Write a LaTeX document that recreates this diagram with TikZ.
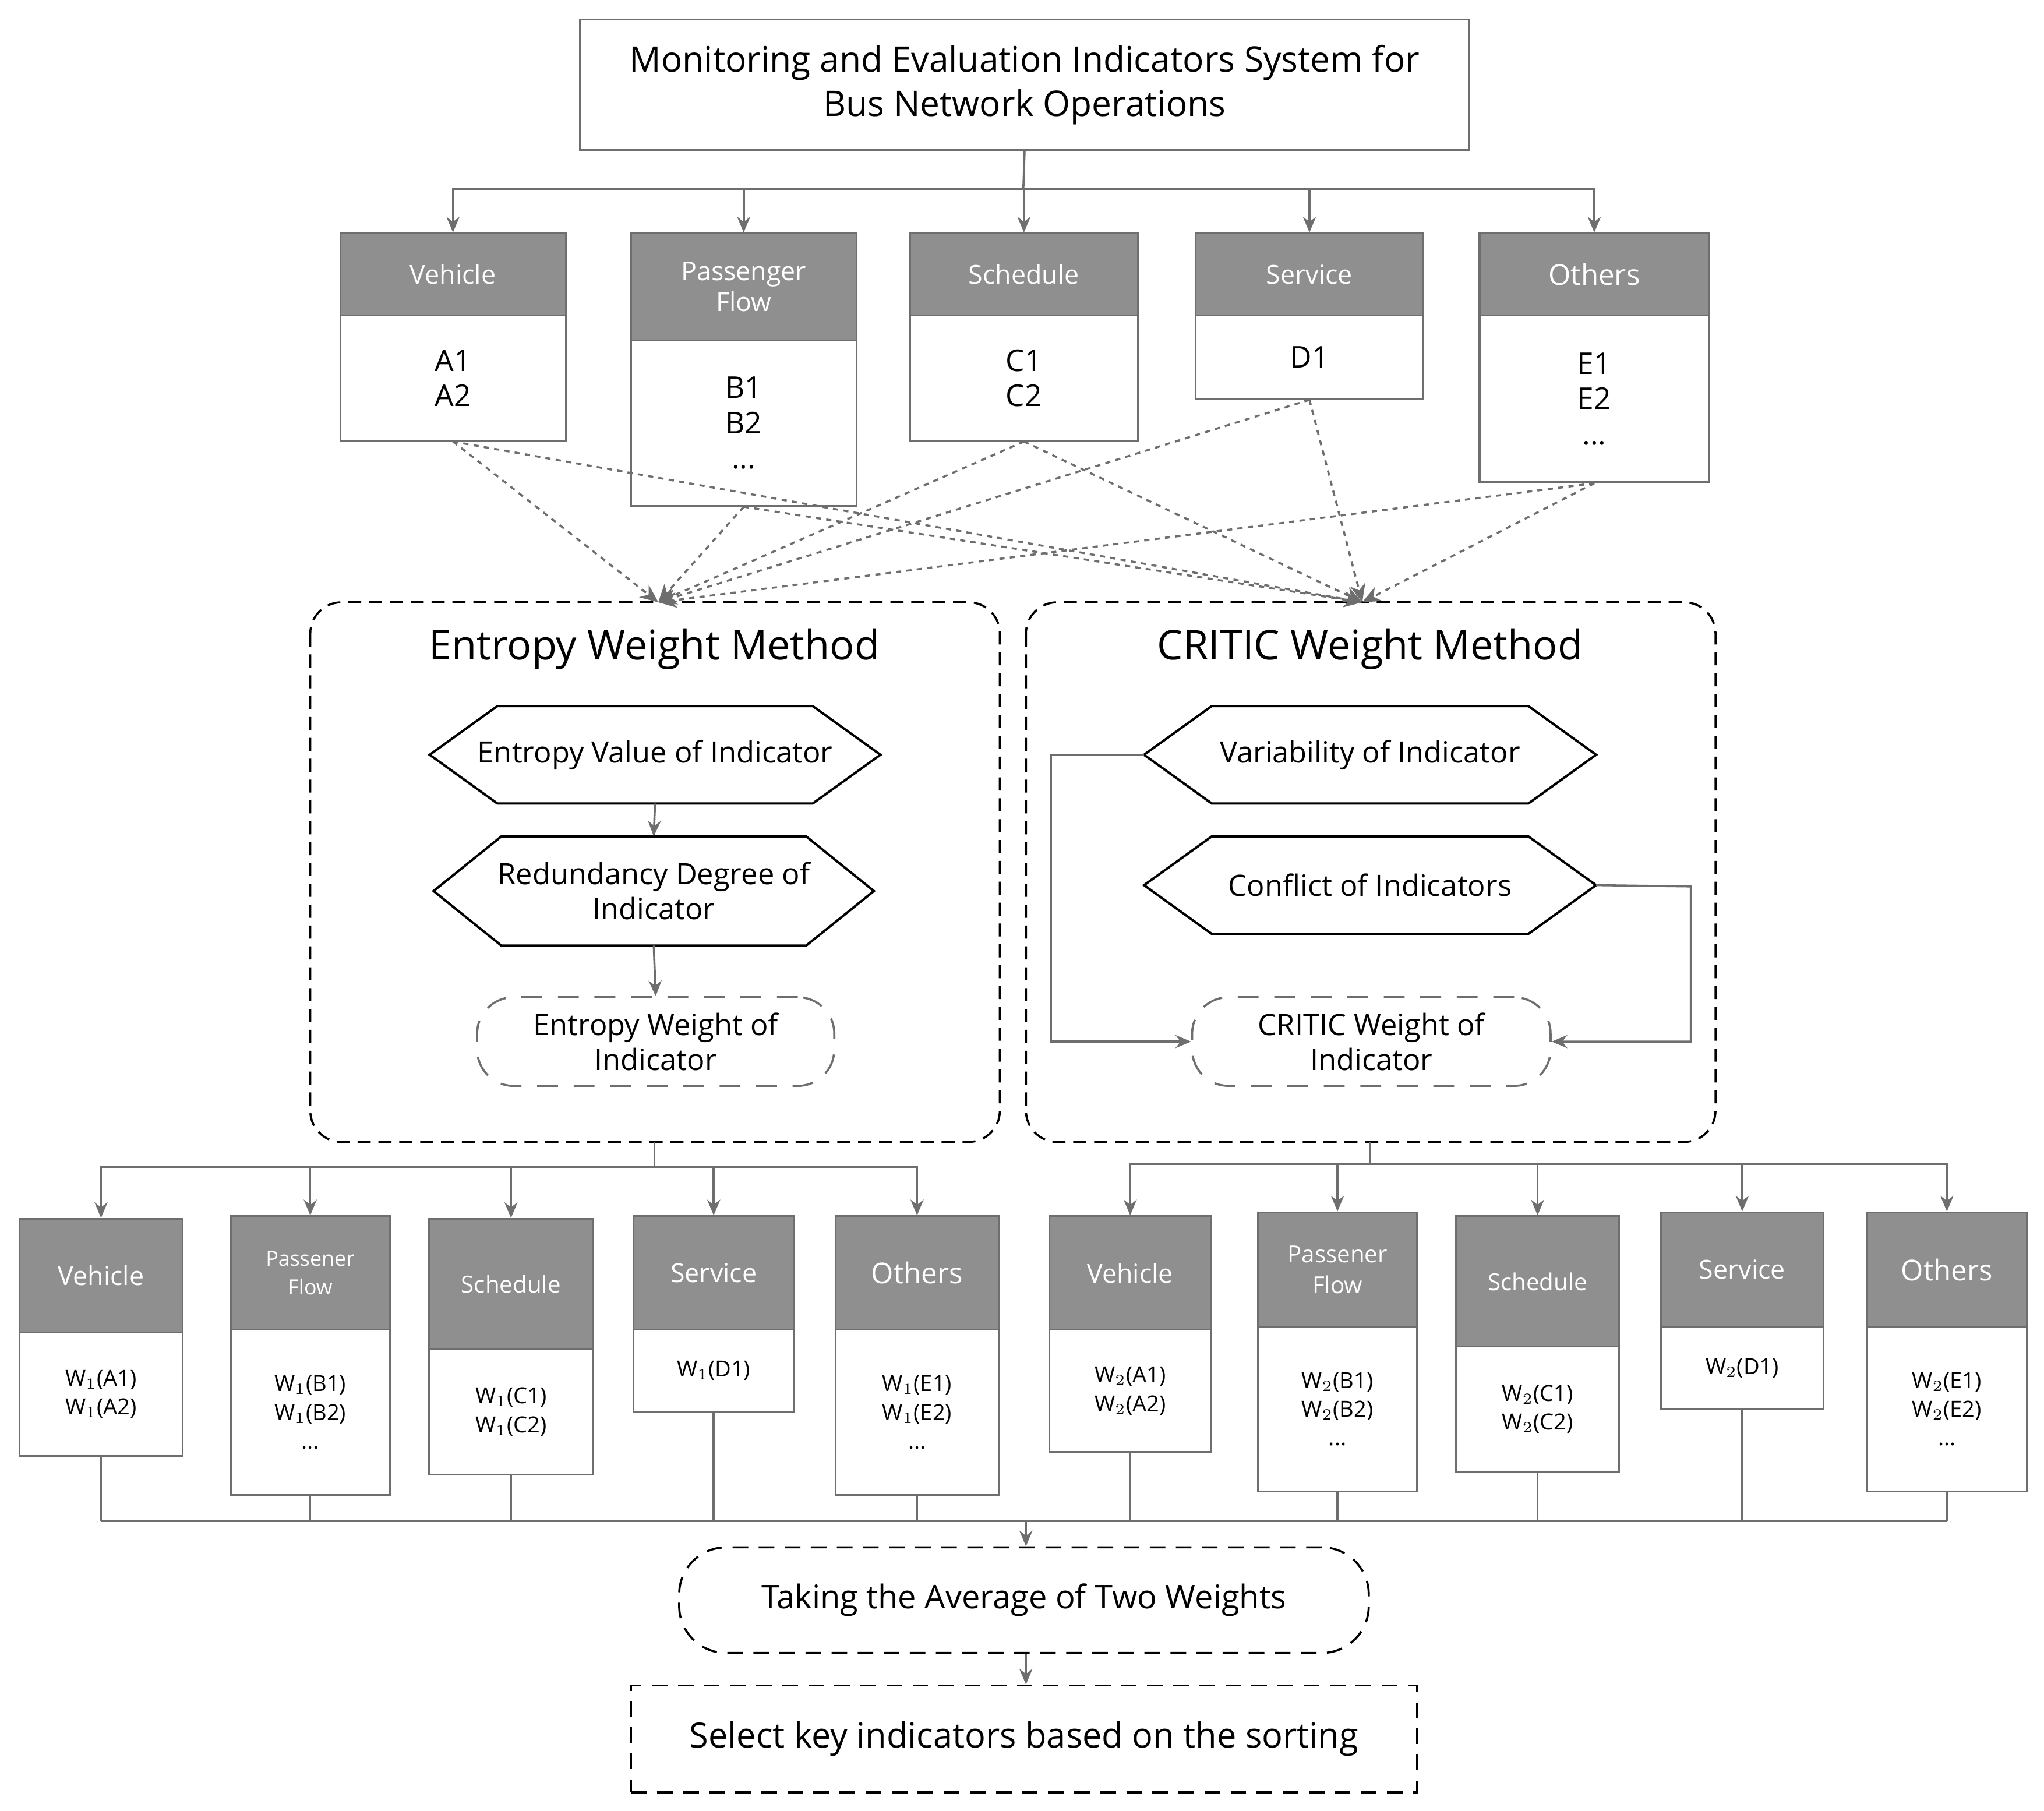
\documentclass[tikz,border=0pt]{standalone}
\usepackage{fontspec}
\setmainfont{Open Sans}
\usetikzlibrary{arrows.meta}
\definecolor{hdg}{HTML}{8F8F8F}
\definecolor{ln}{HTML}{6E6E6E}
\tikzset{
 hd/.style={fill=hdg,draw=ln,line width=0.7pt,text=white,inner sep=1pt,align=center,font=\fontsize{10}{12}\selectfont},
 bd/.style={fill=white,draw=ln,line width=0.7pt,align=center,inner sep=1pt,font=\fontsize{11.5}{13.5}\selectfont},
 bdw/.style={bd,font=\fontsize{8.5}{11}\selectfont},
 arr/.style={draw=ln,line width=0.8pt,-{Stealth[length=6pt,width=5pt]}},
 ln/.style={draw=ln,line width=0.8pt},
 dot/.style={draw=ln,line width=0.8pt,dash pattern=on 2pt off 2pt,-{Stealth[length=7pt,width=6pt]}},
 grp/.style={draw=black,line width=0.8pt,dash pattern=on 5pt off 3pt,rounded corners=12pt},
 hexn/.style={draw=none,align=center,inner sep=0pt,font=\fontsize{11.3}{13.5}\selectfont},
 hex/.style={draw=black,line width=0.9pt,fill=white},
 rnd/.style={draw=ln,line width=0.8pt,dash pattern=on 8pt off 6pt,rounded corners=14pt,align=center,inner sep=0pt,font=\fontsize{11.3}{13.5}\selectfont},
}
% x1 x2 y1 ymid y2 head body bodystyle name
\newcommand\catbox[9]{%
 \node[hd,minimum width={(#2-#1)*0.5pt},minimum height={(#4-#3)*0.5pt}] (#9h) at ({(#1+#2)/2},{(#3+#4)/2}) {#6};
 \node[#8,minimum width={(#2-#1)*0.5pt},minimum height={(#5-#4)*0.5pt}] (#9b) at ({(#1+#2)/2},{(#4+#5)/2}) {#7};
}
\newcommand\hexa[6]{% name x1 x2 y1 y2 text
 \node[hexn,minimum width={(#3-#2)*0.5pt},minimum height={(#5-#4)*0.5pt}] (#1) at ({(#2+#3)/2},{(#4+#5)/2}) {};
 \draw[hex] ([xshift=26pt]#1.north west) -- ([xshift=-26pt]#1.north east) -- (#1.east) -- ([xshift=-26pt]#1.south east) -- ([xshift=26pt]#1.south west) -- (#1.west) -- cycle;
 \node[hexn] at (#1) {#6};
}
\begin{document}
\begin{tikzpicture}[x=0.5pt,y=-0.5pt]
\useasboundingbox[fill=white] (0,0) rectangle (1568,1389);
% main
\node[draw=ln,line width=0.8pt,minimum width={682*0.5pt},minimum height={100*0.5pt},align=center,font=\fontsize{13.5}{17}\selectfont] (main) at (786,65) {Monitoring and Evaluation Indicators System for\\Bus Network Operations};
% top categories
\catbox{261}{434}{179}{242}{338}{Vehicle}{A1\\A2}{bd}{tv}
\catbox{484}{657}{179}{261}{388}{Passenger\\Flow}{B1\\B2\\...}{bd}{tp}
\catbox{698}{873}{179}{242}{338}{Schedule}{C1\\C2}{bd}{ts}
\catbox{917}{1092}{179}{242}{306}{Service}{D1}{bd}{tr}
\catbox{1135}{1311}{179}{242}{370}{\fontsize{11}{13}\selectfont Others}{E1\\E2\\...}{bd}{to}
\coordinate (tb) at (785,145);
\draw[ln] (main.south) -- (tb);
\foreach \n in {tv,tp,ts,tr,to}{
 \draw[arr] (main.south |- tb) -| (\n h.north);}
% groups
\draw[grp] (238,462) rectangle (767,876);
\draw[grp] (787,462) rectangle (1316,876);
\coordinate (et) at (505,462);
\coordinate (ct) at (1045,462);
\coordinate (eb) at (502,876);
\coordinate (cb) at (1051,876);
\node[font=\fontsize{15.7}{18}\selectfont] (etitle) at (502,498) {Entropy Weight Method};
\node[font=\fontsize{15.7}{18}\selectfont] (ctitle) at (1051,498) {CRITIC Weight Method};
\foreach \n in {tv,tp,ts,tr,to}{
 \draw[dot] (\n b.south) -- (et);
 \draw[dot] (\n b.south) -- (ct);}
% entropy
\hexa{ev}{330}{675}{542}{616}{Entropy Value of Indicator}
\hexa{rd}{333}{670}{642}{725}{Redundancy Degree of\\Indicator}
\node[rnd,minimum width={274*0.5pt},minimum height={68*0.5pt}] (ew) at (503,799) {Entropy Weight of\\Indicator};
\draw[arr] (ev.south) -- (rd.north);
\draw[arr] (rd.south) -- (ew.north);
% critic
\hexa{va}{878}{1224}{542}{616}{Variability of Indicator}
\hexa{cf}{878}{1224}{642}{716}{Conflict of Indicators}
\node[rnd,minimum width={275*0.5pt},minimum height={68*0.5pt}] (cw) at (1052,799) {CRITIC Weight of\\Indicator};
\draw[arr] (va.west) -- (806,579) |- (cw.west);
\draw[arr] (cf.east) -- (1297,680) |- (cw.east);
% lower left
\catbox{15}{140}{935}{1022}{1117}{Vehicle}{W$_1$(A1)\\W$_1$(A2)}{bdw}{lv}
\catbox{177}{299}{933}{1020}{1147}{\fontsize{8}{10}\selectfont Passener\\[-1pt]\fontsize{8}{10}\selectfont Flow}{W$_1$(B1)\\W$_1$(B2)\\...}{bdw}{lp}
\catbox{329}{455}{935}{1035}{1131}{\fontsize{9}{11}\selectfont Schedule}{W$_1$(C1)\\W$_1$(C2)}{bdw}{ls}
\catbox{486}{609}{933}{1020}{1083}{Service}{W$_1$(D1)}{bdw}{lr}
\catbox{641}{766}{933}{1020}{1147}{\fontsize{11}{13}\selectfont Others}{W$_1$(E1)\\W$_1$(E2)\\...}{bdw}{lo}
% lower right
\catbox{805}{929}{933}{1020}{1114}{Vehicle}{W$_2$(A1)\\W$_2$(A2)}{bdw}{rv}
\catbox{965}{1087}{930}{1018}{1144}{\fontsize{9}{11}\selectfont Passener\\\fontsize{9}{11}\selectfont Flow}{W$_2$(B1)\\W$_2$(B2)\\...}{bdw}{rp}
\catbox{1117}{1242}{933}{1033}{1129}{\fontsize{9}{11}\selectfont Schedule}{W$_2$(C1)\\W$_2$(C2)}{bdw}{rs}
\catbox{1274}{1399}{930}{1018}{1081}{Service}{W$_2$(D1)}{bdw}{rr}
\catbox{1432}{1555}{930}{1018}{1144}{\fontsize{11}{13}\selectfont Others}{W$_2$(E1)\\W$_2$(E2)\\...}{bdw}{ro}
\coordinate (lbus) at (502,895);
\coordinate (rbus) at (1051,893);
\draw[ln] (eb) -- (lbus);
\draw[ln] (cb) -- (rbus);
\foreach \n in {lv,lp,ls,lr,lo}{\draw[arr] (lbus) -| (\n h.north);}
\foreach \n in {rv,rp,rs,rr,ro}{\draw[arr] (rbus) -| (\n h.north);}
% bottom bus
\coordinate (bus) at (787,1167);
\foreach \n in {lv,lp,ls,lr,lo,rv,rp,rs,rr,ro}{\draw[ln] (\n b.south) -- (\n b.south |- bus);}
\draw[ln] (lvb.south |- bus) -- (rob.south |- bus);
\node[rnd,draw=black,dash pattern=on 6pt off 4pt,rounded corners=18pt,minimum width={529*0.5pt},minimum height={81*0.5pt},font=\fontsize{12.5}{14}\selectfont] (avg) at (785.5,1227.5) {Taking the Average of Two Weights};
\node[draw=black,line width=0.8pt,dash pattern=on 6pt off 4pt,minimum width={603*0.5pt},minimum height={82*0.5pt},font=\fontsize{13.3}{15}\selectfont] (sel) at (785.5,1334) {Select key indicators based on the sorting};
\draw[arr] (bus) -- (bus |- avg.north);
\draw[arr] (avg.south -| bus) -- (bus |- sel.north);
\end{tikzpicture}
\end{document}
